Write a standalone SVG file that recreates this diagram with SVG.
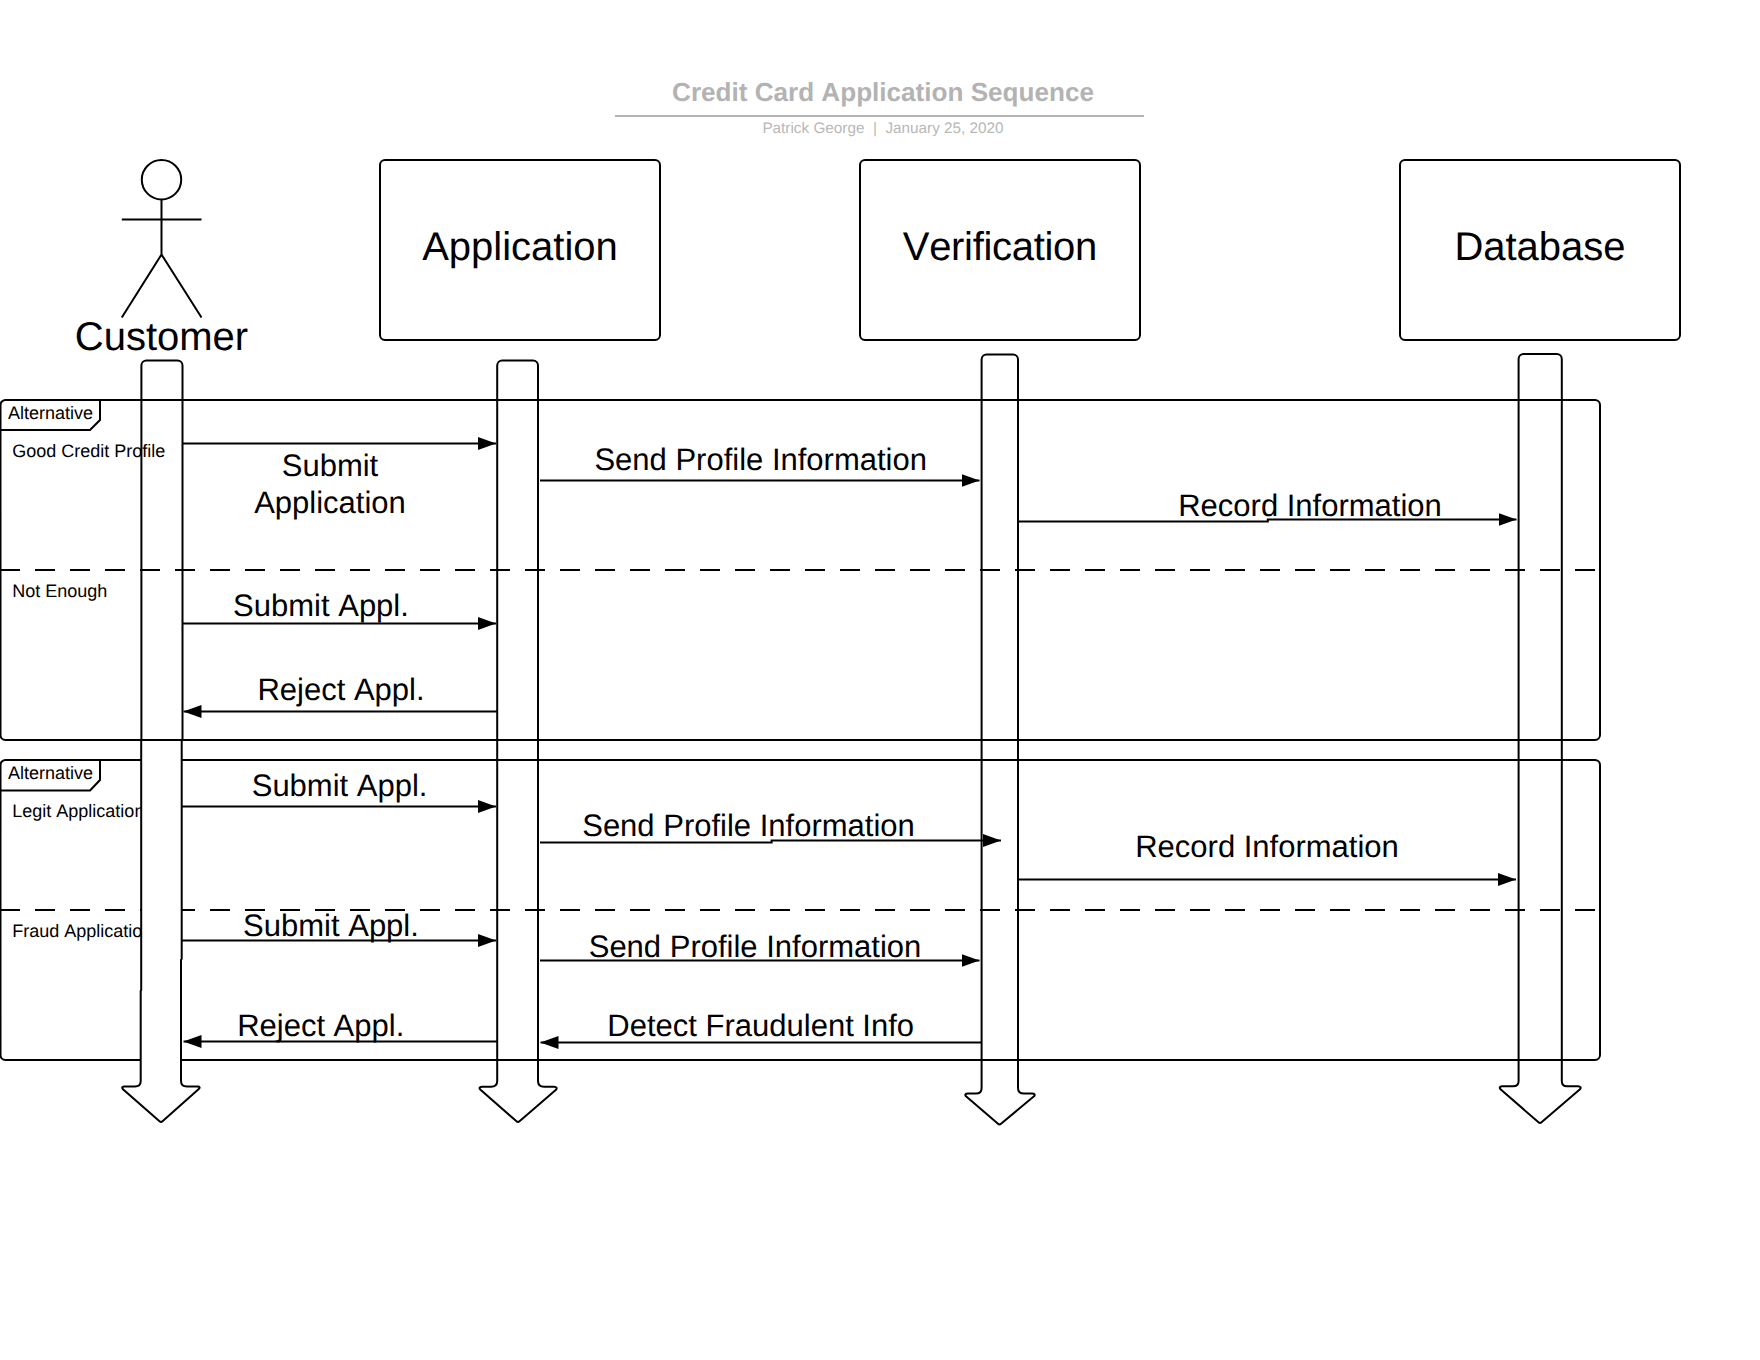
<svg xmlns="http://www.w3.org/2000/svg" width="1760" height="1360" viewBox="0 0 1760 1360">
<style>
text{font-family:"Liberation Sans",Arial,sans-serif;fill:#000;text-rendering:geometricPrecision;font-kerning:none}
.ln{fill:none;stroke:#000;stroke-width:2;stroke-linejoin:round}
.box{fill:#fff;stroke:#000;stroke-width:2}
.big{font-size:40px;text-anchor:middle}
.msg{font-size:31px;text-anchor:middle}
.sm{font-size:18px}
.dash{fill:none;stroke:#000;stroke-width:2;stroke-dasharray:20 15}
.c{fill:none;stroke:#000;stroke-width:2;marker-end:url(#ah)}
</style>
<defs>
<marker id="ah" markerUnits="userSpaceOnUse" markerWidth="18" markerHeight="13" refX="18" refY="6.500" orient="auto"><polygon points="0,0 18,6.500 0,13" fill="#000"/></marker>
</defs>
<rect width="1760" height="1360" fill="#fff"/>
<g id="title">
<text x="883" y="100.500" text-anchor="middle" font-size="26.100" font-weight="bold" style="fill:#b3b3b3">Credit Card Application Sequence</text>
<line x1="615" y1="116" x2="1144" y2="116" stroke="#b3b3b3" stroke-width="2"/>
<text x="883" y="133" text-anchor="middle" font-size="15.300" xml:space="preserve" style="fill:#b8b8b8">Patrick George  |  January 25, 2020</text>
</g>
<g id="frame-1">
<path class="ln" d="M0.500 405a5 5 0 0 1 5-5H1595a5 5 0 0 1 5 5V735a5 5 0 0 1-5 5H5.500a5 5 0 0 1-5-5Z"/>
<path class="ln" d="M0.500 430H90L100 420V400"/>
<line class="dash" x1="0" y1="570" x2="1596" y2="570"/>
<text class="sm" x="8" y="419">Alternative</text>
<text class="sm" x="12.300" y="457">Good Credit Profile</text>
<text class="sm" x="12.300" y="597">Not Enough</text>
</g>
<g id="frame-2">
<path class="ln" d="M0.500 765a5 5 0 0 1 5-5H1595a5 5 0 0 1 5 5V1055a5 5 0 0 1-5 5H5.500a5 5 0 0 1-5-5Z"/>
<path class="ln" d="M0.500 790.500H90L100 780V760"/>
<line class="dash" x1="0" y1="910" x2="1596" y2="910"/>
<text class="sm" x="8" y="779">Alternative</text>
<text class="sm" x="12.300" y="817">Legit Application</text>
<text class="sm" x="12.300" y="937">Fraud Application</text>
</g>
<g id="customer">
<circle class="ln" cx="161.500" cy="179.700" r="19.700"/>
<path class="ln" d="M161.500 199.500V254.500M121.800 219.500H201.500M121.800 317.500L161.500 254.500L201.500 317.500"/>
<text class="big" x="161.500" y="350">Customer</text>
<path class="ln" d="M141.400 740V365.500a5 5 0 0 1 5-5H177.500a5 5 0 0 1 5 5V740"/>
<path class="box" d="M181.700 740H141.200V990L140.700 991V1081Q140.700 1086.500 135 1086.500H124Q121 1086.800 123 1089.300L159.500 1121.300Q161 1122.600 162.500 1121.300L198.500 1089.300Q201 1086.800 198 1086.500H187Q181 1086.500 181 1081V960L181.700 959Z"/>
</g>
<g id="application">
<rect class="box" x="380" y="160" width="280" height="180" rx="5"/>
<text class="big" x="520" y="260">Application</text>
<path class="ln" d="M497.200 1081V365.500a5 5 0 0 1 5-5H533a5 5 0 0 1 5 5V1081Q538 1086.800 544 1086.800H554Q558 1087.300 556 1089.800L519.500 1121.300Q518 1122.800 516.500 1121.300L480.500 1089.800Q478 1087.300 482 1086.800H491Q497.200 1086.800 497.200 1081Z"/>
</g>
<g id="verification">
<rect class="box" x="860" y="160" width="280" height="180" rx="5"/>
<text class="big" x="1000" y="260" textLength="194.500" lengthAdjust="spacing">Verification</text>
<path class="ln" d="M981.600 1088V359.500a5 5 0 0 1 5-5H1013a5 5 0 0 1 5 5V1088Q1018 1093.600 1024 1093.600H1032Q1036 1093.800 1034 1096.300L1001 1123.800Q999.500 1125.300 998 1123.800L966 1096.300Q964 1093.800 968 1093.600H976Q981.600 1093.600 981.600 1088Z"/>
</g>
<g id="database">
<rect class="box" x="1400" y="160" width="280" height="180" rx="5"/>
<text class="big" x="1540" y="260">Database</text>
<path class="ln" d="M1518.600 1081V359a5 5 0 0 1 5-5H1556.800a5 5 0 0 1 5 5V1081Q1561.800 1086.300 1567 1086.300H1578Q1582 1086.800 1580 1089.300L1541.500 1122.300Q1540 1123.800 1538.500 1122.300L1500.500 1089.300Q1498.500 1086.800 1502 1086.300H1513Q1518.600 1086.300 1518.600 1081Z"/>
</g>
<g id="connectors">
<path class="c" d="M182.400 443.500H496"/>
<path class="c" d="M540 480.500H979.500"/>
<path class="c" d="M1018.600 521.500H1267.800V519.500H1516.500"/>
<path class="c" d="M182.400 623.500H496"/>
<path class="c" d="M497 711.500H183.500"/>
<path class="c" d="M182 806.500H496"/>
<path class="c" d="M540 842.500H771.600V840.500H1001"/>
<path class="c" d="M1018.600 879.500H1516"/>
<path class="c" d="M182 940.500H496"/>
<path class="c" d="M540 960.500H979.500"/>
<path class="c" d="M497 1041.500H183.500"/>
<path class="c" d="M981 1042.500H540.500"/>
</g>
<g id="labels">
<text class="msg" x="330" y="476">Submit</text>
<text class="msg" x="330" y="513">Application</text>
<text class="msg" x="760.700" y="470">Send Profile Information</text>
<text class="msg" x="1310" y="516">Record Information</text>
<text class="msg" x="321" y="616">Submit Appl.</text>
<text class="msg" x="341" y="700">Reject Appl.</text>
<text class="msg" x="339.600" y="796">Submit Appl.</text>
<text class="msg" x="748.500" y="836">Send Profile Information</text>
<text class="msg" x="1267" y="856.500">Record Information</text>
<text class="msg" x="331" y="936">Submit Appl.</text>
<text class="msg" x="755" y="956.500">Send Profile Information</text>
<text class="msg" x="320.700" y="1036">Reject Appl.</text>
<text class="msg" x="760.700" y="1036">Detect Fraudulent Info</text>
</g>
</svg>
